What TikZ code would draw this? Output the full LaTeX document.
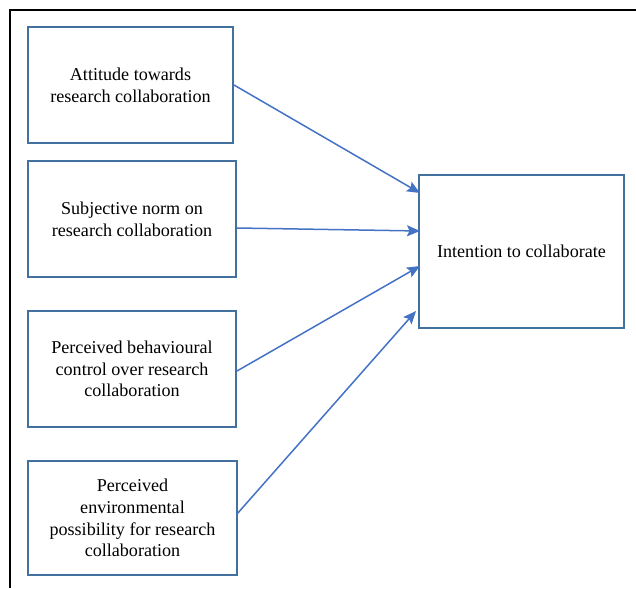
\documentclass[tikz,border=0pt]{standalone}
\usepackage{fontspec}
\setmainfont{Liberation Serif}
\usetikzlibrary{arrows.meta,calc}
\definecolor{boxblue}{HTML}{41719C}
\definecolor{arrblue}{HTML}{4472C4}
\tikzset{
  factor/.style={draw=boxblue, line width=2pt, minimum width=#1, align=center,
    font=\fontsize{18.1pt}{21.8pt}\selectfont, inner sep=0pt},
  arr/.style={draw=arrblue, line width=1.5pt, -{Stealth[length=13pt,width=11pt,inset=2.5pt]}}
}
\begin{document}
\begin{tikzpicture}[x=1pt,y=-1pt]
\useasboundingbox (0,0) rectangle (636,588);
\draw[line width=2pt] (636,10) -- (10,10) -- (10,588);
\node[factor=205pt, minimum height=116pt] (b1) at (130.5,85) {Attitude towards\\research collaboration};
\node[factor=208pt, minimum height=116pt] (b2) at (132,219) {Subjective norm on\\research collaboration};
\node[factor=208pt, minimum height=116pt] (b3) at (132,369) {Perceived behavioural\\control over research\\collaboration};
\node[factor=209pt, minimum height=114pt] (b4) at (132.5,518) {Perceived\\environmental\\possibility for research\\collaboration};
\node[factor=205pt, minimum height=153pt] (t) at (521.5,251.5) {Intention to collaborate};
\coordinate (s2) at (237,228);
\coordinate (s3) at (237,371);
\coordinate (s4) at (237,514);
\coordinate (e1) at (420,193);
\coordinate (e2) at (420,231);
\coordinate (e3) at (420,266);
\coordinate (e4) at (416,311);
\draw[arr] (b1.east) -- (e1);
\draw[arr] (s2) -- (e2);
\draw[arr] (s3) -- (e3);
\draw[arr] (s4) -- (e4);
\end{tikzpicture}
\end{document}
